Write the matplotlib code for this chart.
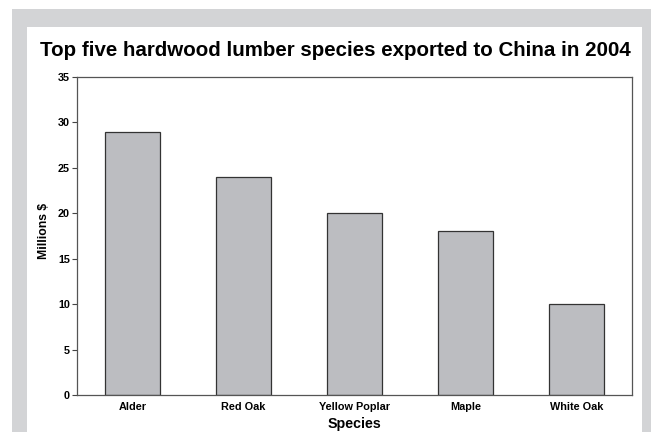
import matplotlib.pyplot as plt
from matplotlib.patches import Rectangle

species = ['Alder', 'Red Oak', 'Yellow Poplar', 'Maple', 'White Oak']
exports = [29, 24, 20, 18, 10]
y_ticks = [0, 5, 10, 15, 20, 25, 30, 35]

plt.rcParams['font.family'] = ['Liberation Sans', 'DejaVu Sans']
plt.rcParams['font.weight'] = 'bold'

W, H = 651, 432
fig = plt.figure(figsize=(W / 100, H / 100), dpi=100)
fig.patch.set_facecolor('white')

# grey frame with a white panel inside
fig.patches.append(Rectangle((12 / W, 0), 1 - 12 / W, 1 - 9 / H,
                             transform=fig.transFigure, facecolor='#d3d4d6',
                             edgecolor='none', zorder=-2))
fig.patches.append(Rectangle((27 / W, 0), (642 - 27) / W, 1 - 27 / H,
                             transform=fig.transFigure, facecolor='white',
                             edgecolor='none', zorder=-1))

ax = fig.add_axes([77 / W, 1 - 395 / H, (632 - 77) / W, (395 - 77) / H])
x = range(len(species))
ax.bar(x, exports, width=0.5, color='#bcbdc1', edgecolor='#333333', linewidth=0.9)

ax.set_xlim(-0.5, len(species) - 0.5)
ax.set_ylim(0, 35)
ax.set_yticks(y_ticks)
ax.set_yticklabels([str(v) for v in y_ticks], fontsize=7.8, fontweight='bold')
ax.set_xticks(list(x))
ax.set_xticklabels(species, fontsize=7.8, fontweight='bold')
ax.tick_params(axis='y', direction='out', length=3.5, width=0.8, pad=1.5, color='#444444')
ax.tick_params(axis='x', length=0, pad=5)
for s in ax.spines.values():
    s.set_color('#555555')
    s.set_linewidth(0.9)

ax.set_xlabel('Species', fontsize=10.3, fontweight='bold', labelpad=3.5)
ax.set_ylabel('Millions $', fontsize=8.8, fontweight='bold')
ax.yaxis.set_label_coords(-0.0486, 0.516)
fig.text(335 / W, 1 - 50.5 / H, 'Top five hardwood lumber species exported to China in 2004',
         ha='center', va='center', fontsize=14.8, fontweight='bold')

fig.savefig('out.png', dpi=100)
